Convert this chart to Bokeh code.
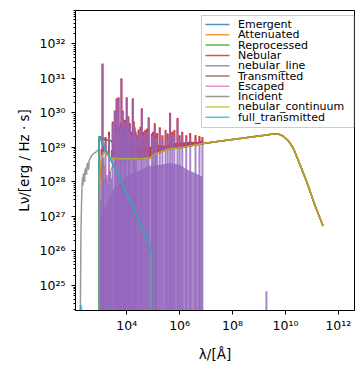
import numpy as np
from bokeh.plotting import figure
from bokeh.models import FixedTicker, BoxAnnotation, PolyAnnotation, Label
from bokeh.embed import file_html
from bokeh.resources import INLINE

FLOOR = 1e20  # zero luminosity, clipped below the log axis

# ---- data: log10(lambda / Angstrom) and log10(L_nu / erg s^-1 Hz^-1) ----
# nebular continuum (also the long-wavelength part of all reprocessed spectra)
cont_loglam = [2.958, 2.962, 2.975, 3.0, 3.06, 3.15, 3.25, 3.37, 3.71, 4.12, 4.6, 4.88, 5.1,
               5.37, 5.64, 6.02, 6.77, 7.5, 8.5, 9.2, 9.53, 9.72, 9.91, 10.1, 10.29,
               10.55, 10.82, 11.1, 11.42]
cont_loglum = [20.0, 27.5, 28.1, 28.5, 28.75, 28.88, 28.8, 28.70, 28.67, 28.67, 28.68, 28.70,
               28.82, 28.90, 28.96, 28.99, 29.10, 29.18, 29.28, 29.35, 29.39, 29.39, 29.33,
               29.2, 28.99, 28.5, 27.97, 27.35, 26.72]

# reprocessed / emergent (UV part, then nebular continuum)
repr_loglam = [2.958, 2.962, 3.05, 3.2, 3.35, 3.45, 3.52, 3.71, 4.12]
repr_loglum = [20.0, 29.32, 29.27, 29.22, 29.2, 29.18, 28.9, 28.72, 28.7]

# attenuated (UV part, then nebular continuum)
att_loglam = [2.958, 2.962, 2.98, 3.03, 3.1, 3.15, 3.2, 3.25, 3.3, 3.38, 3.5, 3.71, 4.12]
att_loglum = [20.0, 27.6, 28.0, 28.3, 28.5, 28.45, 28.0, 27.85, 28.1, 28.3, 28.5, 28.62, 28.65]

# incident stellar spectrum
inc_loglam = [2.24, 2.25, 2.27, 2.29, 2.31, 2.33, 2.35, 2.36, 2.39, 2.41, 2.42, 2.46, 2.48,
              2.5, 2.54, 2.56, 2.58, 2.62, 2.67, 2.72, 2.8, 2.86, 2.93, 2.958,
              2.962, 3.2, 3.5, 3.75, 4.0, 4.25, 4.5, 4.75, 4.94, 4.945]
inc_loglum = [20.0, 24.5, 26.5, 27.3, 27.9, 28.13, 27.9, 28.2, 28.25, 28.0, 28.32, 28.4, 28.2,
              28.5, 28.55, 28.35, 28.62, 28.68, 28.76, 28.8, 28.85, 28.88, 28.93, 28.95,
              29.30, 28.95, 28.48, 28.08, 27.66, 27.25, 26.83, 26.38, 25.98, 20.0]

# full transmitted (incident beyond the Lyman limit, plus a weak leak at short wavelength)
ftr_loglam = [2.24, 2.25, 2.29, 2.30, 2.958, 2.962, 3.2, 3.5, 3.75, 4.0, 4.25, 4.5, 4.75,
              4.94, 4.945]
ftr_loglum = [20.0, 24.42, 24.40, 20.0, 20.0, 29.30, 28.95, 28.48, 28.08, 27.66, 27.25,
              26.83, 26.38, 25.98, 20.0]

# nebular line spectrum: dense body envelope
env_loglam = [2.962, 3.0, 3.15, 3.35, 3.5, 3.75, 4.0, 4.38, 4.87, 5.3, 5.62, 6.0, 6.3, 6.6, 6.87]
env_loglum = [26.8, 26.9, 27.2, 27.55, 27.8, 28.0, 28.15, 28.3, 28.47, 28.5, 28.55, 28.5,
              28.35, 28.25, 28.15]

# nebular band of blended lines above the continuum
band_loglam = [3.4, 3.6, 3.8, 4.0, 4.2, 4.4, 4.6, 4.8, 5.0, 5.2, 5.4, 5.6, 5.8, 6.0, 6.2,
               6.4, 6.6, 6.87]
band_lo = [28.70, 28.68, 28.67, 28.67, 28.67, 28.67, 28.68, 28.70, 28.77, 28.85, 28.90,
           28.95, 28.97, 28.99, 29.02, 29.05, 29.07, 29.11]
band_hi = [28.92, 28.95, 28.93, 29.0, 28.95, 29.0, 29.05, 29.0, 29.05, 29.07, 29.05, 29.1,
           29.12, 29.15, 29.15, 29.17, 29.15, 29.2]

# strong emission lines: wavelength, nebular peak, line-only peak
spike_loglam = [3.085, 3.80, 3.62, 3.69, 4.00, 4.23, 4.57, 4.83, 5.06, 5.25, 5.47, 5.64, 5.92,
                6.75, 3.55, 3.85, 4.12, 4.30, 3.33, 3.47, 5.15, 6.10, 6.40, 5.80, 4.45, 4.70,
                3.93, 4.06, 3.20, 6.60, 6.86, 3.74, 4.18, 4.38, 4.95, 5.35, 5.55, 6.25,
                3.05, 3.12, 3.58, 3.66, 3.77, 3.89, 3.97, 4.09, 4.27, 4.34, 4.52, 4.63,
                4.77, 5.00, 5.10, 5.72, 6.00]
spike_neb = [31.43, 31.00, 30.42, 30.45, 30.45, 30.42, 30.13, 29.87, 29.70, 29.58, 29.50,
             30.00, 29.85, 29.33, 30.07, 30.07, 29.70, 29.58, 29.45, 29.75, 29.42, 29.45,
             29.42, 29.50, 29.52, 29.50, 29.80, 29.90, 29.30, 29.36, 29.30, 29.6, 29.45,
             29.35, 29.40, 29.35, 29.4, 29.35, 28.95, 29.05, 29.6, 29.9, 29.7, 29.55,
             29.65, 29.5, 29.75, 29.45, 29.6, 29.45, 29.55, 29.45, 29.35, 29.45, 29.35]
spike_line = [31.40, 30.98, 30.38, 30.42, 30.42, 30.38, 30.08, 29.80, 29.60, 29.48, 29.40,
              29.95, 29.78, 29.20, 30.03, 30.03, 29.62, 29.50, 29.35, 29.68, 29.30, 29.35,
              29.30, 29.40, 29.42, 29.40, 29.72, 29.83, 29.15, 29.25, 29.20, 29.5, 29.35,
              29.25, 29.30, 29.25, 29.3, 29.25, 28.6, 28.7, 29.5, 29.85, 29.6, 29.45,
              29.55, 29.4, 29.65, 29.35, 29.5, 29.35, 29.45, 29.35, 29.25, 29.35, 29.25]
# weaker lines below the continuum
weak_loglam = [2.98, 3.01, 3.14, 3.24, 3.28, 3.38, 3.42]
weak_loglum = [27.9, 27.5, 28.1, 28.2, 27.9, 28.3, 28.1]
# isolated radio line
radio_loglam = [9.28]
radio_loglum = [24.83]

names = ["Emergent", "Attenuated", "Reprocessed", "Nebular", "nebular_line", "Transmitted",
         "Escaped", "Incident", "nebular_continuum", "full_transmitted"]
colors = ["#1f77b4", "#ff7f0e", "#2ca02c", "#d62728", "#9467bd", "#8c564b",
          "#e377c2", "#7f7f7f", "#bcbd22", "#17becf"]
C = dict(zip(names, colors))

def P(a):
    return 10.0 ** np.asarray(a, dtype=float)

tail_mask = np.asarray(cont_loglam) > 4.5
tail_lam = list(np.asarray(cont_loglam)[tail_mask])
tail_lum = list(np.asarray(cont_loglum)[tail_mask])

FW, FH = 279, 300
p = figure(x_axis_type="log", y_axis_type="log",
           x_range=(10 ** 2.064, 10 ** 12.61), y_range=(10 ** 24.275, 10 ** 32.965),
           frame_width=FW, frame_height=FH,
           min_border_left=75, min_border_right=8, min_border_top=10, min_border_bottom=60,
           output_backend="svg", toolbar_location=None)

LW = 1.5
SW = 2.0
A = 0.8
p.line(P(repr_loglam + tail_lam), P(repr_loglum + tail_lum),
       line_color=C["Emergent"], line_width=LW, line_alpha=A)
p.line(P(att_loglam + tail_lam), P(att_loglum + tail_lum),
       line_color=C["Attenuated"], line_width=LW, line_alpha=A)
p.line(P(repr_loglam + tail_lam), P(repr_loglum + tail_lum),
       line_color=C["Reprocessed"], line_width=LW, line_alpha=A)
# nebular = continuum + lines
p.line(P(cont_loglam), P(cont_loglum), line_color=C["Nebular"], line_width=LW, line_alpha=A)
p.varea(x=P(band_loglam), y1=P(band_lo), y2=P(band_hi), fill_color=C["Nebular"], fill_alpha=0.95)
spike_base = np.interp(spike_loglam, cont_loglam[1:], cont_loglum[1:])
p.segment(x0=P(spike_loglam), y0=P(spike_base), x1=P(spike_loglam), y1=P(spike_neb),
          line_color=C["Nebular"], line_width=SW, line_alpha=0.95)
# nebular lines only
p.varea(x=P(env_loglam), y1=FLOOR, y2=P(env_loglum), fill_color=C["nebular_line"], fill_alpha=A)
p.segment(x0=P(spike_loglam), y0=FLOOR, x1=P(spike_loglam), y1=P(spike_line),
          line_color=C["nebular_line"], line_width=SW, line_alpha=A)
p.segment(x0=P(weak_loglam), y0=FLOOR, x1=P(weak_loglam), y1=P(weak_loglum),
          line_color=C["nebular_line"], line_width=SW, line_alpha=A)
p.segment(x0=P(radio_loglam), y0=FLOOR, x1=P(radio_loglam), y1=P(radio_loglum),
          line_color=C["nebular_line"], line_width=SW, line_alpha=A)
p.line(P(ftr_loglam[4:]), P(ftr_loglum[4:]), line_color=C["Transmitted"], line_width=LW,
       line_alpha=A)
p.line(P([2.962, 4.94]), [FLOOR, FLOOR], line_color=C["Escaped"], line_width=LW, line_alpha=A)
p.line(P(inc_loglam), P(inc_loglum), line_color=C["Incident"], line_width=LW, line_alpha=A)
p.line(P(cont_loglam), P(cont_loglum), line_color=C["nebular_continuum"], line_width=LW,
       line_alpha=A)
p.line(P(ftr_loglam), P(ftr_loglum), line_color=C["full_transmitted"], line_width=LW,
       line_alpha=A)

# axes
sup = str.maketrans("0123456789", "⁰¹²³⁴⁵⁶⁷⁸⁹")
xt = [4, 6, 8, 10, 12]
yt = list(range(25, 33))
p.xaxis.ticker = FixedTicker(ticks=[10.0 ** e for e in xt], minor_ticks=[])
p.yaxis.ticker = FixedTicker(ticks=[10.0 ** e for e in yt],
                             minor_ticks=[m * 10.0 ** e for e in range(24, 33) for m in range(2, 10)])
p.xaxis.major_label_overrides = {10.0 ** e: "10" + str(e).translate(sup) for e in xt}
p.yaxis.major_label_overrides = {10.0 ** e: "10" + str(e).translate(sup) for e in yt}

for ax in (p.xaxis[0], p.yaxis[0]):
    ax.major_label_text_font = "DejaVu Sans"
    ax.major_label_text_font_size = "12.5px"
    ax.major_label_text_color = "black"
    ax.axis_label_text_font = "DejaVu Sans"
    ax.axis_label_text_font_size = "13.5px"
    ax.axis_label_text_font_style = "normal"
    ax.axis_label_text_color = "black"
    ax.major_tick_in = 0
    ax.major_tick_out = 4
    ax.minor_tick_in = 0
    ax.minor_tick_out = 2
    ax.axis_line_color = "black"
    ax.major_tick_line_color = "black"
    ax.minor_tick_line_color = "black"

p.xaxis.axis_label = "λ/[Å]"
p.yaxis.axis_label = "Lν/[erg / Hz · s]"
p.xaxis.major_label_standoff = 3
p.yaxis.major_label_standoff = 6
p.yaxis.axis_label_standoff = 5
p.xaxis.axis_label_standoff = 10

p.xgrid.visible = False
p.ygrid.visible = False
p.outline_line_color = "black"
p.outline_line_width = 1
p.background_fill_color = "white"

# legend box (screen units relative to the plot frame, y measured from its bottom)
LEG_L, LEG_R, LEG_T, LEG_B = 126, FW - 0.5, FH - 5, FH - 117
p.add_layout(BoxAnnotation(left=LEG_L, right=LEG_R, top=LEG_T, bottom=LEG_B,
                           left_units="screen", right_units="screen",
                           top_units="screen", bottom_units="screen",
                           fill_color="white", fill_alpha=0.8,
                           line_color="#cccccc", line_width=1, line_alpha=1))
ROW0, ROWH = FH - 14, 10.3
for i, (n, c) in enumerate(zip(names, colors)):
    yy = ROW0 - i * ROWH
    p.add_layout(PolyAnnotation(xs=[130, 154], ys=[yy, yy], xs_units="screen",
                                ys_units="screen", line_color=c, line_width=LW,
                                line_alpha=A, fill_alpha=0))
    p.add_layout(Label(x=162.5, y=yy, x_units="screen", y_units="screen", text=n,
                       text_font="DejaVu Sans", text_font_size="11px",
                       text_baseline="middle", text_align="left", text_color="black"))

open("out.html", "w").write(file_html(p, INLINE))
